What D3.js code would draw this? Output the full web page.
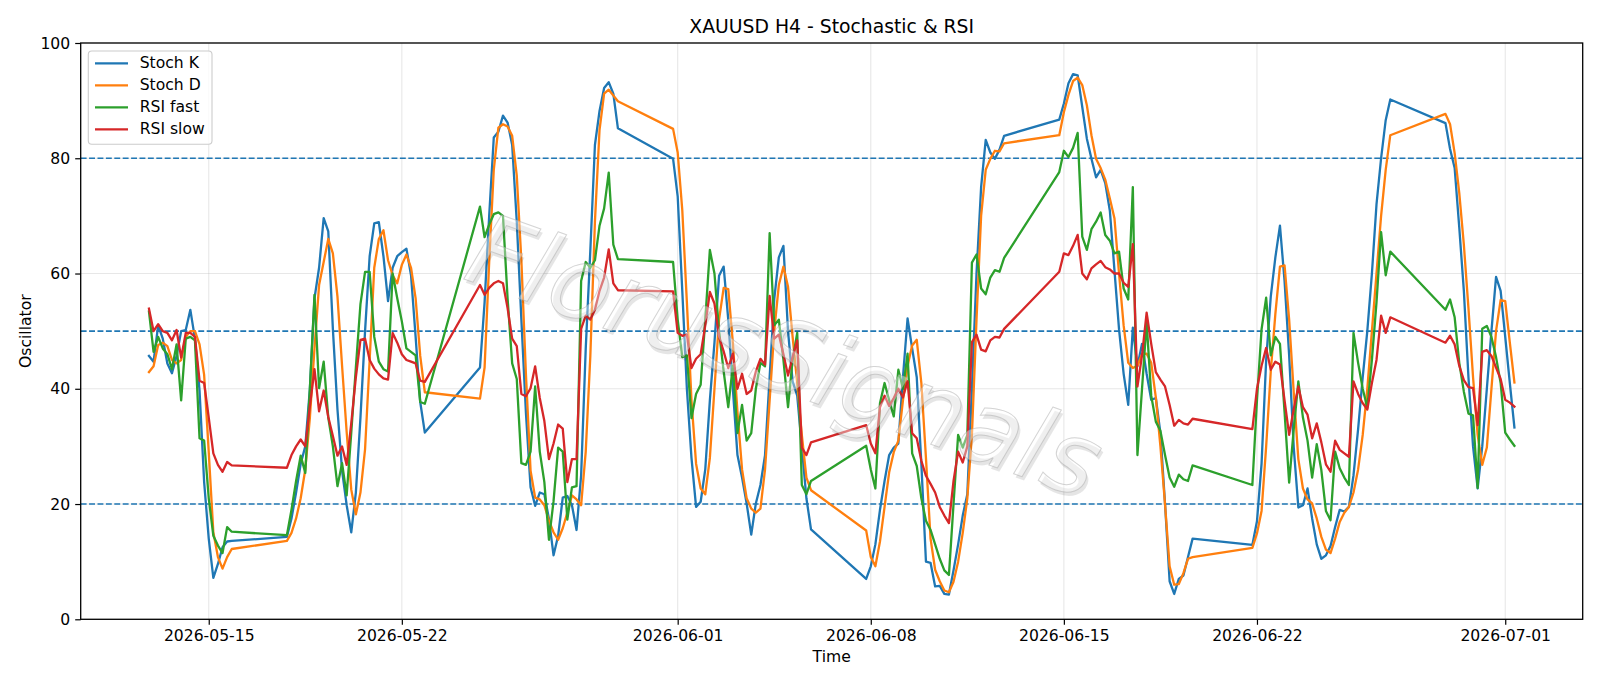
<!DOCTYPE html>
<html>
<head>
<meta charset="utf-8">
<script src="https://cdn.jsdelivr.net/npm/d3@7"></script>
<style>
  body { margin: 0; background: #fff; }
  svg { display: block; font-family: "DejaVu Sans", sans-serif; }
</style>
</head>
<body>
<svg id="chart" width="1600" height="686"></svg>
<script>
// H4 bars, one trading session per week: [first bar, number of bars]
var sessions = [
  ["2026-05-12T20:00:00Z", 19],
  ["2026-05-17T20:00:00Z", 31],
  ["2026-05-24T20:00:00Z", 31],
  ["2026-05-31T20:00:00Z", 31],
  ["2026-06-07T20:00:00Z", 31],
  ["2026-06-14T20:00:00Z", 30],
  ["2026-06-21T20:00:00Z", 31],
  ["2026-06-28T20:00:00Z", 16]
];

// one line per session
var stochK = [
  45.7, 44.7, 51.0, 48.7, 44.4, 42.7, 45.7, 50.0, 50.2, 53.7, 48.7, 39.7, 23.8, 14.0, 7.2, 9.6, 12.5, 13.5, 13.6,
  14.3, 17.5, 22, 27, 30, 40, 55.7, 61, 69.6, 67.3, 50.4, 36.4, 25.8, 19.8, 15.1, 22, 35, 50, 63, 68.7, 68.9, 63, 55.2, 61, 63, 63.7, 64.3, 59.7, 49, 37.7, 32.4,
  43.7, 55, 70, 83.6, 84.6, 87.4, 86.2, 82.3, 69, 52, 35.7, 22.9, 19.7, 22, 21.7, 17.4, 11.1, 14.5, 21.1, 21.4, 19.8, 15.5, 25, 47, 64, 82.3, 88.2, 92.2, 93.2, 91.2, 85.2,
  79.9, 73.4, 57, 40, 28, 19.5, 20.4, 26, 38, 48, 59.6, 61.2, 52, 40, 28.5, 24.6, 20.1, 14.7, 20.1, 23.3, 28.5, 42, 55.5, 62.8, 64.8, 50, 41.3, 38.8, 30, 21, 15.6,
  7, 9.2, 13, 19, 24, 28.5, 29.8, 30.5, 42, 52.2, 47, 42, 27, 10, 9.8, 5.7, 5.8, 4.4, 4.3, 8.5, 13, 18, 21.7, 40, 60, 75, 83.2, 81, 79.9, 81.5, 83.9,
  86.7, 89.5, 93, 94.6, 94.4, 88.9, 83.4, 79.9, 76.7, 78, 75.7, 70.9, 60.6, 50.3, 42.6, 37.2, 50.6, 43.9, 47.8, 42.6, 38.1, 38.4, 32.3, 20.1, 6.6, 4.4, 7, 7.6, 10.8, 14,
  12.9, 17, 27, 45, 56, 62.8, 68.3, 58.7, 45.8, 29.8, 19.4, 19.8, 22.7, 17.5, 13, 10.5, 11.1, 12.7, 16, 19, 18.7, 19.5, 25, 33, 42, 50, 60, 72, 80, 86.6, 90.2,
  86.1, 81.6, 78.3, 68, 57, 42, 30, 22.7, 30, 40, 50, 59.4, 57, 49, 41, 33.3
];
var stochD = [
  42.9, 43.9, 47.6, 48, 47.4, 45, 44.4, 45, 49, 50, 50, 47.7, 42.4, 29, 15.1, 10.8, 8.8, 10.8, 12.2,
  13.6, 15, 17.5, 21, 26, 35, 47, 58, 62, 66, 63.5, 56, 44, 32.5, 22.5, 18.2, 22, 29.5, 45, 61, 66, 67.5, 62.3, 59.7, 58.3, 61.5, 63.3, 61, 55.7, 45.7, 39.4,
  38.3, 43.7, 62, 78, 85.3, 85.9, 85.5, 83.9, 77, 62.3, 42.4, 25.8, 21.1, 20.8, 19.8, 17.1, 15.1, 13.8, 15.8, 18.5, 21.5, 20.8, 19.8, 29.1, 45.7, 69, 84.9, 91.2, 91.9, 90.9, 89.9,
  85.1, 81, 71, 55, 38, 27, 22.7, 21.7, 28, 40, 52, 57.5, 57.3, 48, 36, 26, 21, 19.2, 18.5, 19.2, 26, 38, 50, 58, 61.2, 57.7, 49, 41, 32, 24.6, 22.4,
  15.4, 10.8, 9.2, 13.5, 19.5, 25.5, 29, 31, 38, 44, 47.5, 48.5, 41, 28, 14, 8.6, 6.6, 5, 4.7, 6.5, 10, 15, 21, 32, 52, 70, 78, 79.9, 81.3, 81.2, 82.6,
  84, 88, 91, 93.4, 94, 92.7, 89.2, 84, 79.9, 78.3, 76.3, 73, 69.6, 60, 51, 44.5, 43.6, 44, 46, 46.1, 44.5, 38.5, 30, 20, 9.2, 6, 6.1, 8, 10.5, 10.8,
  12.4, 14.9, 18.8, 30, 43, 53, 61.2, 61.4, 52, 39.4, 27.8, 22.7, 20.8, 20.1, 17.5, 14.3, 12.1, 11.5, 14, 16.9, 18.5, 19.5, 22, 26, 32, 40, 50, 60, 70, 78, 84,
  87.7, 85.9, 80.9, 74, 65, 54, 42, 32, 26.8, 29.8, 40, 50, 55.4, 55.2, 48, 41.1
];
var rsiFast = [
  53.4, 46.4, 49.0, 47.0, 46.0, 43.4, 47.7, 38.0, 48.7, 49.0, 48.4, 31.4, 31.0, 21.0, 14.5, 12.8, 11.5, 16.0, 15.2,
  14.6, 19, 24, 28.4, 25.4, 40, 56.3, 40.1, 44.7, 35, 30, 23.1, 27.1, 21.5, 32.4, 43.7, 54.7, 60.3, 60.3, 49, 44.7, 43.4, 43, 60, 55.7, 51.7, 47, 46.4, 45.8, 37.7, 37.4,
  71.6, 66.3, 68.5, 70.3, 70.6, 70.0, 55.7, 44.4, 41.7, 27.1, 26.8, 29.1, 40.4, 29.1, 23.8, 13.8, 20.5, 29.8, 29.1, 17.3, 22.9, 23.1, 58.7, 62, 61, 62.3, 68.3, 71.3, 77.5, 65, 62.5,
  62, 52, 45.5, 45.8, 34.9, 39.1, 40.7, 52, 64.1, 60, 50, 43, 36.8, 44, 32.3, 37.2, 31, 32.3, 40, 44.5, 43.9, 67, 51, 52, 45, 36.8, 45, 49.7, 23.3, 21.7, 24,
  30.1, 26, 22.7, 37.5, 41, 38, 35.2, 43.3, 40, 46.1, 28.8, 26.6, 21, 17.1, 15.5, 13, 10.5, 8.5, 7.7, 20, 32, 29.8, 32, 61.9, 63.3, 57.4, 56.4, 59.3, 60.6, 60.3, 62.7,
  77.6, 81.3, 80.2, 81.8, 84.4, 66.4, 64.1, 67.7, 69, 70.6, 66.7, 65.7, 63.5, 63.8, 57.4, 55.5, 75, 28.5, 40, 51.6, 38.8, 34.3, 32.7, 28.5, 24.6, 23, 25.1, 24.3, 24, 26.7,
  23.3, 38, 50.3, 55.8, 45.8, 49, 47.8, 36, 23.7, 33, 41.3, 35, 31, 24.6, 30.4, 25.9, 18.8, 17.2, 29.1, 26.2, 24.6, 23.3, 49.7, 44.5, 40, 36.7, 45, 55, 67.2, 59.7, 63.8,
  53.7, 55.5, 52.4, 44.5, 39.5, 35.7, 35.4, 22.8, 50.4, 50.9, 49, 45.5, 41, 32.4, 31.2, 30.1
];
var rsiSlow = [
  53.9, 50.0, 51.2, 50.0, 49.7, 48.4, 50.2, 45.4, 49.7, 49.7, 49.0, 41.4, 41.0, 35.0, 28.8, 26.8, 25.6, 27.3, 26.7,
  26.3, 28.5, 30, 31.2, 30, 37, 43.4, 36.1, 39.7, 35.1, 31.8, 28.4, 30, 26.8, 34, 42, 48.5, 48.7, 45, 43.5, 42.5, 41.8, 41.6, 49.7, 48, 46, 45, 44.7, 44.4, 41.4, 41.2,
  58, 56.3, 57.5, 58.3, 58.7, 58.3, 54, 48.7, 47.4, 39.1, 38.7, 40.1, 43.9, 38.4, 34.4, 27.8, 30.5, 33.8, 33.1, 23.8, 27.8, 27.8, 50.4, 52.7, 52, 53.7, 57, 59.3, 64.2, 58.3, 57.1,
  56.9, 49.7, 49.2, 49.4, 43.6, 45.2, 46, 51, 56.8, 54.8, 49, 46.5, 43.6, 46.1, 40, 42.6, 39.1, 39.7, 43, 45.2, 44.2, 56.1, 48.7, 49.4, 46, 42.3, 45.5, 48.4, 29.8, 28.5, 30.7,
  33.7, 30.5, 28.8, 36.8, 38.8, 37, 38.4, 40, 38.5, 41.3, 32.3, 31.4, 27.5, 24.9, 23.5, 22, 19.5, 18, 16.7, 24, 29.1, 27.2, 30, 48.1, 49.4, 46.8, 46.5, 48.4, 49, 48.9, 50.4,
  60.3, 63.5, 63.2, 64.8, 66.7, 60, 59, 60.9, 61.6, 62.2, 61.1, 60.7, 60, 60, 58.4, 57.7, 65.1, 40.4, 45.8, 53.2, 47.8, 42.9, 41.6, 40.4, 37.2, 33.6, 34.6, 34, 33.8, 34.8,
  33, 40, 44, 47.1, 43.3, 44.7, 44.2, 38, 32, 36.5, 40.4, 36.8, 35.5, 31.4, 34, 30.7, 26.9, 25.6, 31, 29.4, 28.8, 28.2, 41.3, 39.1, 37.5, 36.4, 41, 45, 52.7, 49.7, 52.4,
  48, 49.2, 47.7, 44, 41.5, 40.3, 40.1, 33.7, 46.4, 46.7, 45.7, 43.7, 41.7, 38.1, 37.6, 36.9
];

var seriesNames = ["Stoch K", "Stoch D", "RSI fast", "RSI slow"];
var seriesColors = ["#1f77b4", "#ff7f0e", "#2ca02c", "#d62728"];
var levels = [20, 50, 80];
var yTicks = [0, 20, 40, 60, 80, 100];
var xTickLabels = ["2026-05-15", "2026-05-22", "2026-06-01", "2026-06-08", "2026-06-15", "2026-06-22", "2026-07-01"];

var H4 = 4 * 3600 * 1000;
var times = [];
sessions.forEach(function (s) {
  var t0 = new Date(s[0]).getTime();
  for (var k = 0; k < s[1]; k++) times.push(new Date(t0 + k * H4));
});
var allSeries = [stochK, stochD, rsiFast, rsiSlow];
allSeries.forEach(function (s, i) {
  if (s.length !== times.length) console.warn(seriesNames[i], s.length, times.length);
});

var svg = d3.select('#chart');
var plotL = 80.7, plotR = 1582.7, plotT = 43, plotB = 619.3;

// matplotlib style 5% margin on the time axis
var tFirst = times[0].getTime(), tLast = times[times.length - 1].getTime();
var pad = (tLast - tFirst) * 0.05;
var x = d3.scaleUtc().domain([new Date(tFirst - pad), new Date(tLast + pad)]).range([plotL, plotR]);
var y = d3.scaleLinear().domain([0, 100]).range([plotB, plotT]);

var tickDates = xTickLabels.map(function (d) { return new Date(d + "T00:00:00Z"); });

// grid
var grid = svg.append('g');
grid.selectAll('.gx').data(tickDates).enter().append('line')
  .attr('x1', function (d) { return x(d); }).attr('x2', function (d) { return x(d); })
  .attr('y1', plotT).attr('y2', plotB)
  .attr('stroke', '#b0b0b0').attr('stroke-opacity', 0.3).attr('stroke-width', 1.1);
grid.selectAll('.gy').data(yTicks).enter().append('line')
  .attr('x1', plotL).attr('x2', plotR)
  .attr('y1', function (d) { return y(d); }).attr('y2', function (d) { return y(d); })
  .attr('stroke', '#b0b0b0').attr('stroke-opacity', 0.3).attr('stroke-width', 1.1);

// level lines
svg.append('g').selectAll('line').data(levels).enter().append('line')
  .attr('x1', plotL).attr('x2', plotR)
  .attr('y1', function (d) { return y(d); }).attr('y2', function (d) { return y(d); })
  .attr('stroke', '#1f77b4').attr('stroke-width', 1.6).attr('stroke-dasharray', '5.9,2.5');

// series lines
var line = d3.line()
  .x(function (d, i) { return x(times[i]); })
  .y(function (d) { return y(d); });
svg.append('clipPath').attr('id', 'plotclip').append('rect')
  .attr('x', plotL).attr('y', plotT).attr('width', plotR - plotL).attr('height', plotB - plotT);
svg.append('g').attr('clip-path', 'url(#plotclip)').selectAll('path').data(allSeries).enter().append('path')
  .attr('d', line)
  .attr('fill', 'none')
  .attr('stroke', function (d, i) { return seriesColors[i]; })
  .attr('stroke-width', 2.3)
  .attr('stroke-linejoin', 'round')
  .attr('stroke-linecap', 'square');

// watermark
var wm = svg.append('g').attr('transform', 'translate(785,356) rotate(19.5)');
wm.append('text').text('FlorusSignals')
  .attr('x', 3).attr('y', 3)
  .attr('text-anchor', 'middle').attr('dominant-baseline', 'central')
  .attr('font-size', 100).attr('font-style', 'italic').attr('font-weight', 200)
  .attr('fill', '#000').attr('fill-opacity', 0.1);
wm.append('text').text('FlorusSignals')
  .attr('text-anchor', 'middle').attr('dominant-baseline', 'central')
  .attr('font-size', 100).attr('font-style', 'italic').attr('font-weight', 200)
  .attr('fill', '#fff').attr('fill-opacity', 0.4)
  .attr('stroke', '#aaa').attr('stroke-opacity', 0.5).attr('stroke-width', 1);

// axes
var xAxis = d3.axisBottom(x).tickValues(tickDates)
  .tickFormat(function (d, i) { return xTickLabels[i]; })
  .tickSize(5.5).tickPadding(5);
var yAxis = d3.axisLeft(y).tickValues(yTicks).tickSize(5.5).tickPadding(5);
var gx = svg.append('g').attr('transform', 'translate(0,' + plotB + ')').call(xAxis);
var gy = svg.append('g').attr('transform', 'translate(' + plotL + ',0)').call(yAxis);
[gx, gy].forEach(function (g) {
  g.select('.domain').remove();
  g.selectAll('.tick line').attr('stroke', '#000').attr('stroke-width', 1.2);
  g.selectAll('.tick text').attr('fill', '#000').attr('font-size', 15.6)
    .attr('font-family', '"DejaVu Sans", sans-serif');
});

// frame
svg.append('rect').attr('x', plotL).attr('y', plotT).attr('width', plotR - plotL).attr('height', plotB - plotT)
  .attr('fill', 'none').attr('stroke', '#000').attr('stroke-width', 1.3);

// labels
svg.append('text').text('XAUUSD H4 - Stochastic & RSI')
  .attr('x', (plotL + plotR) / 2).attr('y', 33).attr('text-anchor', 'middle')
  .attr('font-size', 18.8).attr('fill', '#000');
svg.append('text').text('Time')
  .attr('x', (plotL + plotR) / 2).attr('y', 662).attr('text-anchor', 'middle')
  .attr('font-size', 15.6).attr('fill', '#000');
svg.append('text').text('Oscillator')
  .attr('transform', 'translate(31,' + ((plotT + plotB) / 2) + ') rotate(-90)')
  .attr('text-anchor', 'middle').attr('font-size', 15.6).attr('fill', '#000');

// legend
var lg = svg.append('g');
lg.append('rect').attr('x', 88.3).attr('y', 51).attr('width', 123.7).attr('height', 93.3)
  .attr('rx', 3.5).attr('fill', '#fff').attr('fill-opacity', 0.8)
  .attr('stroke', '#cccccc').attr('stroke-width', 1.1);
var items = lg.selectAll('g.item').data(seriesNames).enter().append('g')
  .attr('transform', function (d, i) { return 'translate(0,' + (63.3 + i * 22) + ')'; });
items.append('line').attr('x1', 95).attr('x2', 128).attr('y1', 0).attr('y2', 0)
  .attr('stroke', function (d, i) { return seriesColors[i]; }).attr('stroke-width', 2.3);
items.append('text').text(function (d) { return d; })
  .attr('x', 139.7).attr('y', 0).attr('dominant-baseline', 'central')
  .attr('font-size', 15.6).attr('fill', '#000');
</script>
</body>
</html>
